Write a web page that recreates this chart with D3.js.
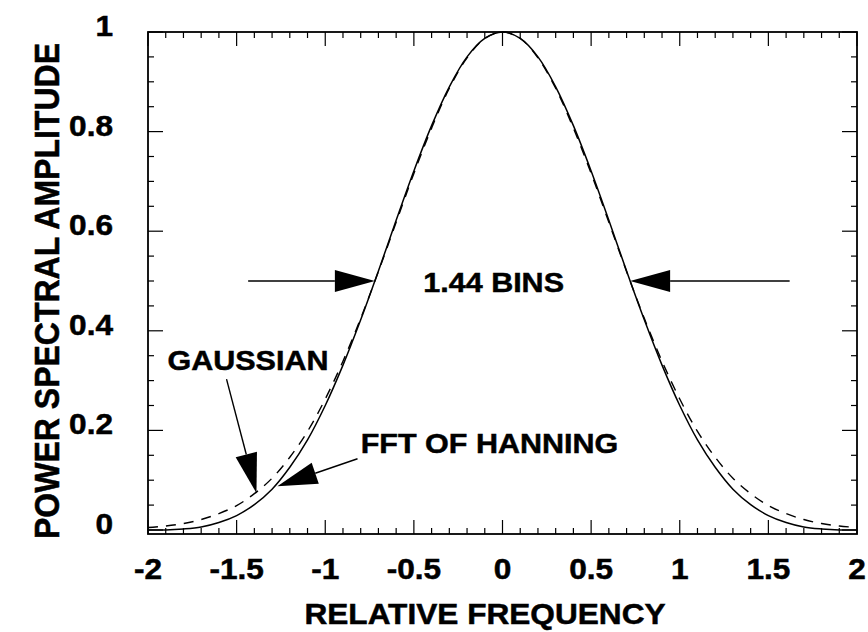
<!DOCTYPE html>
<html>
<head>
<meta charset="utf-8">
<script src="https://cdn.jsdelivr.net/npm/d3@7"></script>
<style>
  html, body { margin: 0; padding: 0; background: #fff; }
  svg { display: block; }
  text { font-family: "Liberation Sans", Arial, Helvetica, sans-serif; font-weight: bold; fill: #000; stroke: #000; stroke-width: 0.5px; }
</style>
</head>
<body>
<svg id="chart" width="868" height="632"></svg>
<script>
// Relative frequency (bins) at which both spectra are tabulated
const freq = [-2.0, -1.9, -1.8, -1.7, -1.6, -1.5, -1.4, -1.3, -1.2, -1.1, -1.0,
              -0.9, -0.8, -0.7, -0.6, -0.5, -0.4, -0.3, -0.2, -0.1, 0.0,
               0.1,  0.2,  0.3,  0.4,  0.5,  0.6,  0.7,  0.8,  0.9, 1.0,
               1.1,  1.2,  1.3,  1.4,  1.5,  1.6,  1.7,  1.8,  1.9, 2.0];

// Power spectrum of the Hanning window (solid)
const hanning = [0.000, 0.000, 0.002, 0.006, 0.015, 0.029, 0.051, 0.082, 0.126, 0.181, 0.250,
                 0.331, 0.422, 0.520, 0.622, 0.721, 0.812, 0.890, 0.950, 0.987, 1.000,
                 0.987, 0.950, 0.890, 0.812, 0.721, 0.622, 0.520, 0.422, 0.331, 0.250,
                 0.181, 0.126, 0.082, 0.051, 0.029, 0.015, 0.006, 0.002, 0.000, 0.000];

// Gaussian with the same half-power width (dashed)
const gaussian = [0.005, 0.008, 0.013, 0.021, 0.033, 0.049, 0.073, 0.104, 0.146, 0.198, 0.263,
                  0.339, 0.425, 0.519, 0.618, 0.716, 0.807, 0.887, 0.948, 0.987, 1.000,
                  0.987, 0.948, 0.887, 0.807, 0.716, 0.618, 0.519, 0.425, 0.339, 0.263,
                  0.198, 0.146, 0.104, 0.073, 0.049, 0.033, 0.021, 0.013, 0.008, 0.005];

// Axis tick labels
const xTickValues = [-2, -1.5, -1, -0.5, 0, 0.5, 1, 1.5, 2];
const xTickLabels = ["-2", "-1.5", "-1", "-0.5", "0", "0.5", "1", "1.5", "2"];
const yTickValues = [0, 0.2, 0.4, 0.6, 0.8, 1];
const yTickLabels = ["0", "0.2", "0.4", "0.6", "0.8", "1"];

// Half-power points and bandwidth annotation
const halfPower = 0.5;
const halfWidth = 0.72;
const bandwidthLabel = "1.44 BINS";

const svg = d3.select("#chart");
const frame = { left: 148, right: 857, top: 32, bottom: 534 };
const stretch = 1.09; // horizontal widening of the lettering

const x = d3.scaleLinear().domain([-2, 2]).range([frame.left, frame.right]);
const y = d3.scaleLinear().domain([0, 1]).range([530, frame.top]);

// Tick marks pointing inward on all four sides
const g = svg.append("g");
const xMinor = d3.range(-20, 21).map(i => i / 10);
const yMinor = d3.range(0, 21).map(i => i / 20);
const isMajorX = v => Math.abs(v * 2 - Math.round(v * 2)) < 1e-6;
const isMajorY = v => Math.abs(v * 5 - Math.round(v * 5)) < 1e-6;

xMinor.forEach(v => {
  const len = isMajorX(v) ? 14 : 6;
  g.append("line").attr("x1", x(v)).attr("x2", x(v))
    .attr("y1", frame.bottom).attr("y2", frame.bottom - len)
    .attr("stroke", "#000").attr("stroke-width", 1.2);
  g.append("line").attr("x1", x(v)).attr("x2", x(v))
    .attr("y1", frame.top).attr("y2", frame.top + len)
    .attr("stroke", "#000").attr("stroke-width", 1.2);
});
yMinor.forEach(v => {
  const len = isMajorY(v) ? 15 : 6;
  g.append("line").attr("y1", y(v)).attr("y2", y(v))
    .attr("x1", frame.left).attr("x2", frame.left + len)
    .attr("stroke", "#000").attr("stroke-width", 1.2);
  g.append("line").attr("y1", y(v)).attr("y2", y(v))
    .attr("x1", frame.right).attr("x2", frame.right - len)
    .attr("stroke", "#000").attr("stroke-width", 1.2);
});

// Frame
g.append("rect")
  .attr("x", frame.left).attr("y", frame.top)
  .attr("width", frame.right - frame.left).attr("height", frame.bottom - frame.top)
  .attr("fill", "none").attr("stroke", "#000").attr("stroke-width", 1.8);

// Tick labels
function stretchedText(parent, tx, ty, str, size, anchor) {
  return parent.append("text")
    .attr("transform", `translate(${tx},${ty}) scale(${stretch},1)`)
    .attr("text-anchor", anchor)
    .style("font-size", size + "px")
    .text(str);
}
xTickValues.forEach((v, i) => stretchedText(svg, x(v), 579, xTickLabels[i], 29, "middle"));
yTickValues.forEach((v, i) => stretchedText(svg, 113, y(v) + 4, yTickLabels[i], 29, "end"));

// Axis titles
stretchedText(svg, 485, 624, "RELATIVE FREQUENCY", 29, "middle");
svg.append("text")
  .attr("transform", `translate(59,291) scale(1.12,1) rotate(-90)`)
  .attr("text-anchor", "middle")
  .style("font-size", "32px")
  .text("POWER SPECTRAL AMPLITUDE");

// Curves
const pts = (vals) => freq.map((f, i) => [f, vals[i]]);
const line = d3.line().x(d => x(d[0])).y(d => y(d[1])).curve(d3.curveCatmullRom.alpha(0.5));

svg.append("path").attr("d", line(pts(gaussian)))
  .attr("fill", "none").attr("stroke", "#000").attr("stroke-width", 1.4)
  .attr("stroke-dasharray", "10,8");
svg.append("path").attr("d", line(pts(hanning)))
  .attr("fill", "none").attr("stroke", "#000").attr("stroke-width", 1.5);

// Arrows: a shaft from `from` to `to` (data units) with a filled head at `to`
function arrow(from, to, headLen = 40, headHalf = 11) {
  const x0 = x(from[0]), y0 = y(from[1]), x1 = x(to[0]), y1 = y(to[1]);
  const dx = x1 - x0, dy = y1 - y0, L = Math.hypot(dx, dy);
  const ux = dx / L, uy = dy / L;
  const bx = x1 - ux * headLen, by = y1 - uy * headLen;
  svg.append("line").attr("x1", x0).attr("y1", y0).attr("x2", bx).attr("y2", by)
    .attr("stroke", "#000").attr("stroke-width", 1.4);
  svg.append("path")
    .attr("d", `M${x1},${y1}L${bx - uy * headHalf},${by + ux * headHalf}L${bx + uy * headHalf},${by - ux * headHalf}Z`)
    .attr("fill", "#000");
}

arrow([-1.435, halfPower], [-halfWidth, halfPower]);
arrow([1.62, halfPower], [halfWidth, halfPower]);
arrow([-1.557, 0.303], [-1.388, 0.074]);
arrow([-0.818, 0.143], [-1.27, 0.088]);

// Annotation labels
stretchedText(svg, x(-0.05), y(0.478), bandwidthLabel, 28, "middle");
stretchedText(svg, x(-1.89), y(0.321), "GAUSSIAN", 28, "start");
stretchedText(svg, x(-0.80), y(0.155), "FFT OF HANNING", 28, "start");
</script>
</body>
</html>
